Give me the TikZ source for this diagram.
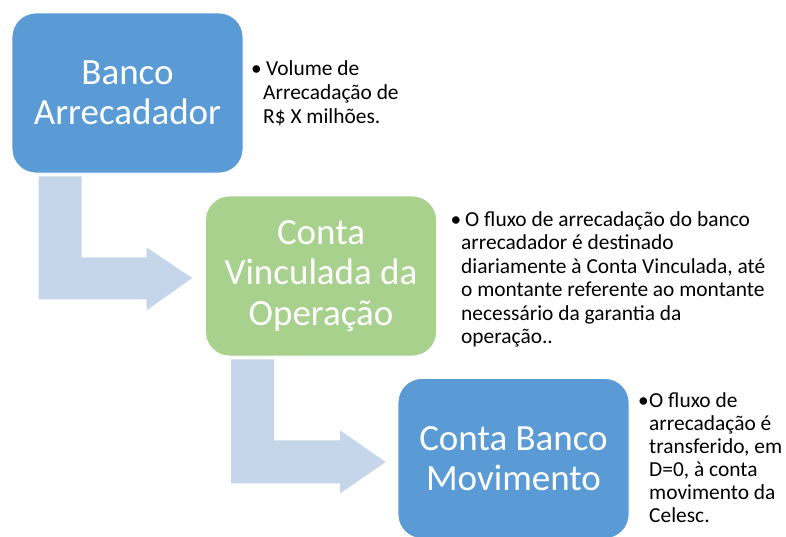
\documentclass[tikz,border=0pt]{standalone}
\usepackage{fontspec}
\setmainfont{Carlito}
\usetikzlibrary{calc}
\definecolor{boxblue}{HTML}{5B9BD5}
\definecolor{boxgreen}{HTML}{A9D18E}
\definecolor{arrowblue}{HTML}{C5D5EA}
\newcommand\bulmark[1]{\makebox[#1][l]{•}}
\tikzset{
  stagebox/.style={minimum width=231pt, minimum height=160pt, inner sep=0pt,
    rounded corners=24pt, draw=white, line width=0.8pt, text=white, align=center,
    font=\fontsize{37}{40.5}\selectfont},
  bentarrow/.style={fill=arrowblue, draw=none},
  notetext/.style={anchor=base west, inner sep=0pt, text=black}
}
\begin{document}
\begin{tikzpicture}[x=1pt,y=-1pt]
\useasboundingbox (0,0) rectangle (786,536);
\fill[white] (0,0) rectangle (786,536);
\begin{scope}
\clip (0,0) rectangle (786,536);
\node[stagebox, fill=boxblue] (b1) at (127.5,93) {Banco\\Arrecadador};
\node[stagebox, fill=boxgreen] (b2) at (321,276) {Conta\\Vinculada da\\Operação};
\node[stagebox, fill=boxblue] (b3) at (513.5,458.5) {Conta Banco\\Movimento};

\fill[bentarrow] ($(b1.south west)+(27,3)$) -- ($(b1.south west)+(70,3)$)
  -- ($(b1.south west)+(70,84)$) -- ($(b1.south west)+(135,84)$)
  -- ($(b1.south west)+(135,74)$) -- ($(b2.west)+(-13,2)$)
  -- ($(b1.south west)+(135,137)$) -- ($(b1.south west)+(135,126)$)
  -- ($(b1.south west)+(27,126)$) -- cycle;
\fill[bentarrow] ($(b2.south west)+(26,3)$) -- ($(b2.south west)+(69,3)$)
  -- ($(b2.south west)+(69,84)$) -- ($(b2.south west)+(135,84)$)
  -- ($(b2.south west)+(135,74)$) -- ($(b3.west)+(-12,3.5)$)
  -- ($(b2.south west)+(135,137)$) -- ($(b2.south west)+(135,127)$)
  -- ($(b2.south west)+(26,127)$) -- cycle;
\end{scope}

\node[notetext] (t1) at (251,75) {\fontsize{21.4}{24}\selectfont
  \begin{tabular}[t]{@{}l@{}l@{}}
  \bulmark{12pt} & \hspace{3pt}Volume de\\
  & Arrecadação de\\
  & R\$ X milhões.
  \end{tabular}};
\node[notetext] (t2) at (450.5,226) {\fontsize{21.4}{23.5}\selectfont
  \begin{tabular}[t]{@{}l@{}l@{}}
  \bulmark{10.5pt} & \hspace{4pt}O fluxo de arrecadação do banco\\
  & arrecadador é destinado\\
  & diariamente à Conta Vinculada, até\\
  & o montante referente ao montante\\
  & necessário da garantia da\\
  & operação..
  \end{tabular}};
\node[notetext] (t3) at (638,407) {\fontsize{21.4}{23}\selectfont
  \begin{tabular}[t]{@{}l@{}l@{}}
  \bulmark{11pt} & O fluxo de\\
  & arrecadação é\\
  & transferido, em\\
  & D=0, à conta\\
  & movimento da\\
  & Celesc.
  \end{tabular}};
\end{tikzpicture}
\end{document}
